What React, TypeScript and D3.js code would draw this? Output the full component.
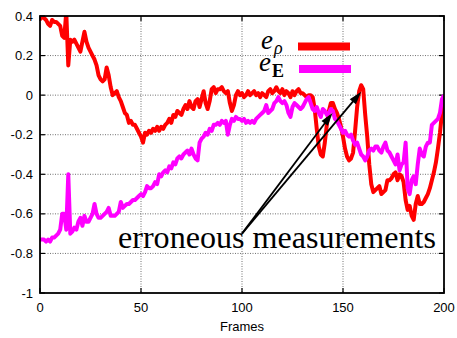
import React from 'react';
import * as d3 from 'd3';

const xTicks = [0, 50, 100, 150, 200];
const yTicks = [0.4, 0.2, 0, -0.2, -0.4, -0.6, -0.8, -1];
const yTickLabels = ['0.4', '0.2', '0', '-0.2', '-0.4', '-0.6', '-0.8', '-1'];

// e_rho, one value per frame 0..200
const eRho = [
  0.38, 0.40, 0.39, 0.38, 0.36, 0.35, 0.38, 0.37, 0.37, 0.36,
  0.35, 0.30, 0.29, 0.42, 0.15, 0.28, 0.27, 0.28, 0.26, 0.24,
  0.22, 0.27, 0.32, 0.27, 0.24, 0.22, 0.20, 0.18, 0.15, 0.10,
  0.08, 0.07, 0.08, 0.14, 0.10, 0.04, 0.00, 0.01, 0.02, -0.01,
  -0.03, -0.06, -0.09, -0.10, -0.14, -0.13, -0.15, -0.15, -0.17, -0.19,
  -0.21, -0.24, -0.19, -0.20, -0.18, -0.19, -0.17, -0.18, -0.16, -0.18,
  -0.16, -0.17, -0.15, -0.14, -0.12, -0.14, -0.10, -0.11, -0.08, -0.09,
  -0.10, -0.07, -0.05, -0.07, -0.03, -0.06, -0.07, -0.03, -0.02, -0.06,
  -0.02, 0.02, -0.04, -0.07, -0.03, 0.03, 0.04, 0.01, 0.03, 0.03,
  0.04, 0.02, 0.01, 0.02, -0.04, -0.08, -0.05, 0.00, 0.02, 0.00,
  0.01, -0.01, 0.00, 0.02, 0.00, 0.01, 0.02, 0.00, 0.01, -0.01,
  0.01, 0.00, -0.01, 0.02, 0.03, 0.01, 0.02, 0.04, 0.02, 0.01,
  0.03, 0.00, 0.02, 0.01, -0.01, 0.02, 0.00, 0.02, 0.03, 0.01,
  0.01, 0.00, -0.01, 0.00, 0.00, -0.01, -0.07, -0.17, -0.26, -0.30,
  -0.31, -0.24, -0.15, -0.08, -0.04, -0.04, -0.07, -0.09, -0.12, -0.16,
  -0.21, -0.27, -0.31, -0.33, -0.32, -0.29, -0.18, -0.06, 0.02, 0.05,
  0.03, -0.10, -0.21, -0.35, -0.45, -0.49, -0.48, -0.47, -0.46, -0.50,
  -0.49, -0.48, -0.43, -0.43, -0.42, -0.40, -0.39, -0.43, -0.40, -0.41,
  -0.44, -0.53, -0.58, -0.56, -0.61, -0.63, -0.55, -0.51, -0.55, -0.55,
  -0.54, -0.52, -0.50, -0.47, -0.43, -0.39, -0.34, -0.27, -0.19, -0.09,
  0.00,
];

// e_E, one value per frame 0..200
const eE = [
  -0.73, -0.73, -0.73, -0.74, -0.73, -0.74, -0.72, -0.72, -0.71, -0.70,
  -0.68, -0.60, -0.60, -0.68, -0.40, -0.70, -0.69, -0.67, -0.68, -0.64,
  -0.62, -0.66, -0.61, -0.64, -0.64, -0.62, -0.60, -0.55, -0.60, -0.62,
  -0.62, -0.61, -0.60, -0.59, -0.57, -0.61, -0.61, -0.61, -0.60, -0.59,
  -0.54, -0.57, -0.56, -0.55, -0.55, -0.54, -0.53, -0.53, -0.52, -0.51,
  -0.50, -0.51, -0.49, -0.46, -0.47, -0.47, -0.46, -0.44, -0.45, -0.40,
  -0.41, -0.39, -0.38, -0.39, -0.36, -0.37, -0.34, -0.35, -0.32, -0.31,
  -0.32, -0.30, -0.29, -0.28, -0.30, -0.27, -0.30, -0.32, -0.33, -0.24,
  -0.22, -0.21, -0.19, -0.20, -0.17, -0.18, -0.15, -0.15, -0.14, -0.15,
  -0.13, -0.14, -0.13, -0.20, -0.15, -0.12, -0.13, -0.11, -0.12, -0.12,
  -0.13, -0.12, -0.14, -0.13, -0.14, -0.13, -0.14, -0.12, -0.11, -0.10,
  -0.09, -0.08, -0.05, -0.09, -0.08, -0.07, -0.04, -0.03, -0.01, -0.03,
  -0.04, -0.03, -0.05, -0.09, -0.11, -0.06, -0.04, -0.05, -0.06, -0.07,
  -0.06, -0.04, -0.02, -0.01, -0.04, -0.07, -0.08, -0.06, -0.09, -0.11,
  -0.07, -0.08, -0.10, -0.09, -0.07, -0.08, -0.12, -0.13, -0.15, -0.17,
  -0.19, -0.18, -0.20, -0.21, -0.20, -0.23, -0.25, -0.24, -0.27, -0.30,
  -0.31, -0.33, -0.31, -0.28, -0.27, -0.28, -0.26, -0.26, -0.28, -0.29,
  -0.26, -0.24, -0.28, -0.29, -0.31, -0.33, -0.35, -0.30, -0.38, -0.35,
  -0.34, -0.24, -0.47, -0.50, -0.43, -0.41, -0.45, -0.35, -0.27, -0.30,
  -0.31, -0.26, -0.24, -0.24, -0.15, -0.14, -0.13, -0.12, -0.09, -0.02,
  0.00,
];

const arrowTail = [100, -0.7];
const arrowHeads = [
  [144.8, -0.09],
  [159, 0.017],
];
const labelText = 'erroneous measurements';
const xAxisTitle = 'Frames';

const W = 457;
const H = 338;
const LEFT = 40;
const RIGHT = 444;
const TOP = 16;
const BOTTOM = 293;

export default function App() {
  const x = d3.scaleLinear().domain([0, 200]).range([LEFT, RIGHT]);
  const y = d3.scaleLinear().domain([-1, 0.4]).range([BOTTOM, TOP]);
  const line = d3
    .line<number>()
    .x((_, i) => x(i))
    .y((d) => y(d));

  const sans = 'Liberation Sans, Arial, sans-serif';
  const serif = 'Liberation Serif, DejaVu Serif, serif';

  const arrows = arrowHeads.map(([hx, hy], k) => {
    const x0 = x(arrowTail[0]);
    const y0 = y(arrowTail[1]);
    const x1 = x(hx);
    const y1 = y(hy);
    const dx = x1 - x0;
    const dy = y1 - y0;
    const len = Math.hypot(dx, dy);
    const ux = dx / len;
    const uy = dy / len;
    const L = 13;
    const w = 4;
    const bx = x1 - L * ux;
    const by = y1 - L * uy;
    const pts = [
      [x1, y1],
      [bx - w * uy, by + w * ux],
      [bx + w * uy, by - w * ux],
    ];
    return (
      <g key={k}>
        <line x1={x0} y1={y0} x2={bx + 2 * ux} y2={by + 2 * uy} stroke="#000" strokeWidth={1.8} />
        <polygon points={pts.map((p) => p.join(',')).join(' ')} fill="#000" />
      </g>
    );
  });

  return (
    <svg
      width={W}
      height={H}
      style={{ position: 'absolute', left: 0, top: 0, background: '#fff' }}
    >
      <defs>
        <clipPath id="plotClip">
          <rect x={LEFT} y={TOP} width={RIGHT - LEFT} height={BOTTOM - TOP} />
        </clipPath>
      </defs>
      <rect x={0} y={0} width={W} height={H} fill="#fff" />

      {/* grid */}
      {yTicks.slice(1, -1).map((t) => (
        <line
          key={'gy' + t}
          x1={LEFT}
          x2={RIGHT}
          y1={y(t)}
          y2={y(t)}
          stroke="#707070"
          strokeWidth={1}
          strokeDasharray="1,1.5"
        />
      ))}
      {xTicks.slice(1, -1).map((t) => (
        <line
          key={'gx' + t}
          y1={TOP}
          y2={BOTTOM}
          x1={x(t)}
          x2={x(t)}
          stroke="#707070"
          strokeWidth={1}
          strokeDasharray="1,1.5"
        />
      ))}

      {/* ticks */}
      {yTicks.map((t) => (
        <g key={'ty' + t}>
          <line x1={LEFT} x2={LEFT + 5} y1={y(t)} y2={y(t)} stroke="#000" strokeWidth={1.2} />
          <line x1={RIGHT - 5} x2={RIGHT} y1={y(t)} y2={y(t)} stroke="#000" strokeWidth={1.2} />
        </g>
      ))}
      {xTicks.map((t) => (
        <g key={'tx' + t}>
          <line y1={BOTTOM} y2={BOTTOM - 5} x1={x(t)} x2={x(t)} stroke="#000" strokeWidth={1.2} />
          <line y1={TOP} y2={TOP + 5} x1={x(t)} x2={x(t)} stroke="#000" strokeWidth={1.2} />
        </g>
      ))}

      {/* tick labels */}
      {yTicks.map((t, i) => (
        <text
          key={'ly' + t}
          x={LEFT - 7}
          y={y(t)}
          dy="0.35em"
          textAnchor="end"
          fontFamily={sans}
          fontSize={13}
          fill="#000"
        >
          {yTickLabels[i]}
        </text>
      ))}
      {xTicks.map((t) => (
        <text
          key={'lx' + t}
          x={x(t)}
          y={311.5}
          textAnchor="middle"
          fontFamily={sans}
          fontSize={13}
          fill="#000"
        >
          {t}
        </text>
      ))}
      <text x={242} y={331} textAnchor="middle" fontFamily={sans} fontSize={13} fill="#000">
        {xAxisTitle}
      </text>

      {/* series */}
      <g clipPath="url(#plotClip)">
        <path d={line(eRho) || ''} fill="none" stroke="#ff0000" strokeWidth={4} strokeLinejoin="round" />
        <path d={line(eE) || ''} fill="none" stroke="#ff00ff" strokeWidth={4} strokeLinejoin="round" />
      </g>

      {/* legend */}
      <text x={261} y={49} fontFamily={serif} fontStyle="italic" fontSize={27} fill="#000">
        e
        <tspan dx={1} dy={5} fontSize={18}>
          ρ
        </tspan>
      </text>
      <line x1={298} x2={350} y1={46.5} y2={46.5} stroke="#ff0000" strokeWidth={8} />
      <text x={259} y={71} fontFamily={serif} fontStyle="italic" fontSize={27} fill="#000">
        e
        <tspan dx={1} dy={6} fontSize={18} fontStyle="normal" fontWeight="bold">
          E
        </tspan>
      </text>
      <line x1={299} x2={351} y1={69} y2={69} stroke="#ff00ff" strokeWidth={8} />

      {/* arrows & label */}
      {arrows}
      <text
        x={118}
        y={248}
        fontFamily={serif}
        fontSize={31}
        fill="#000"
        textLength={318}
        lengthAdjust="spacingAndGlyphs"
      >
        {labelText}
      </text>

      {/* border */}
      <rect
        x={LEFT}
        y={TOP}
        width={RIGHT - LEFT}
        height={BOTTOM - TOP}
        fill="none"
        stroke="#000"
        strokeWidth={1.8}
      />
    </svg>
  );
}
